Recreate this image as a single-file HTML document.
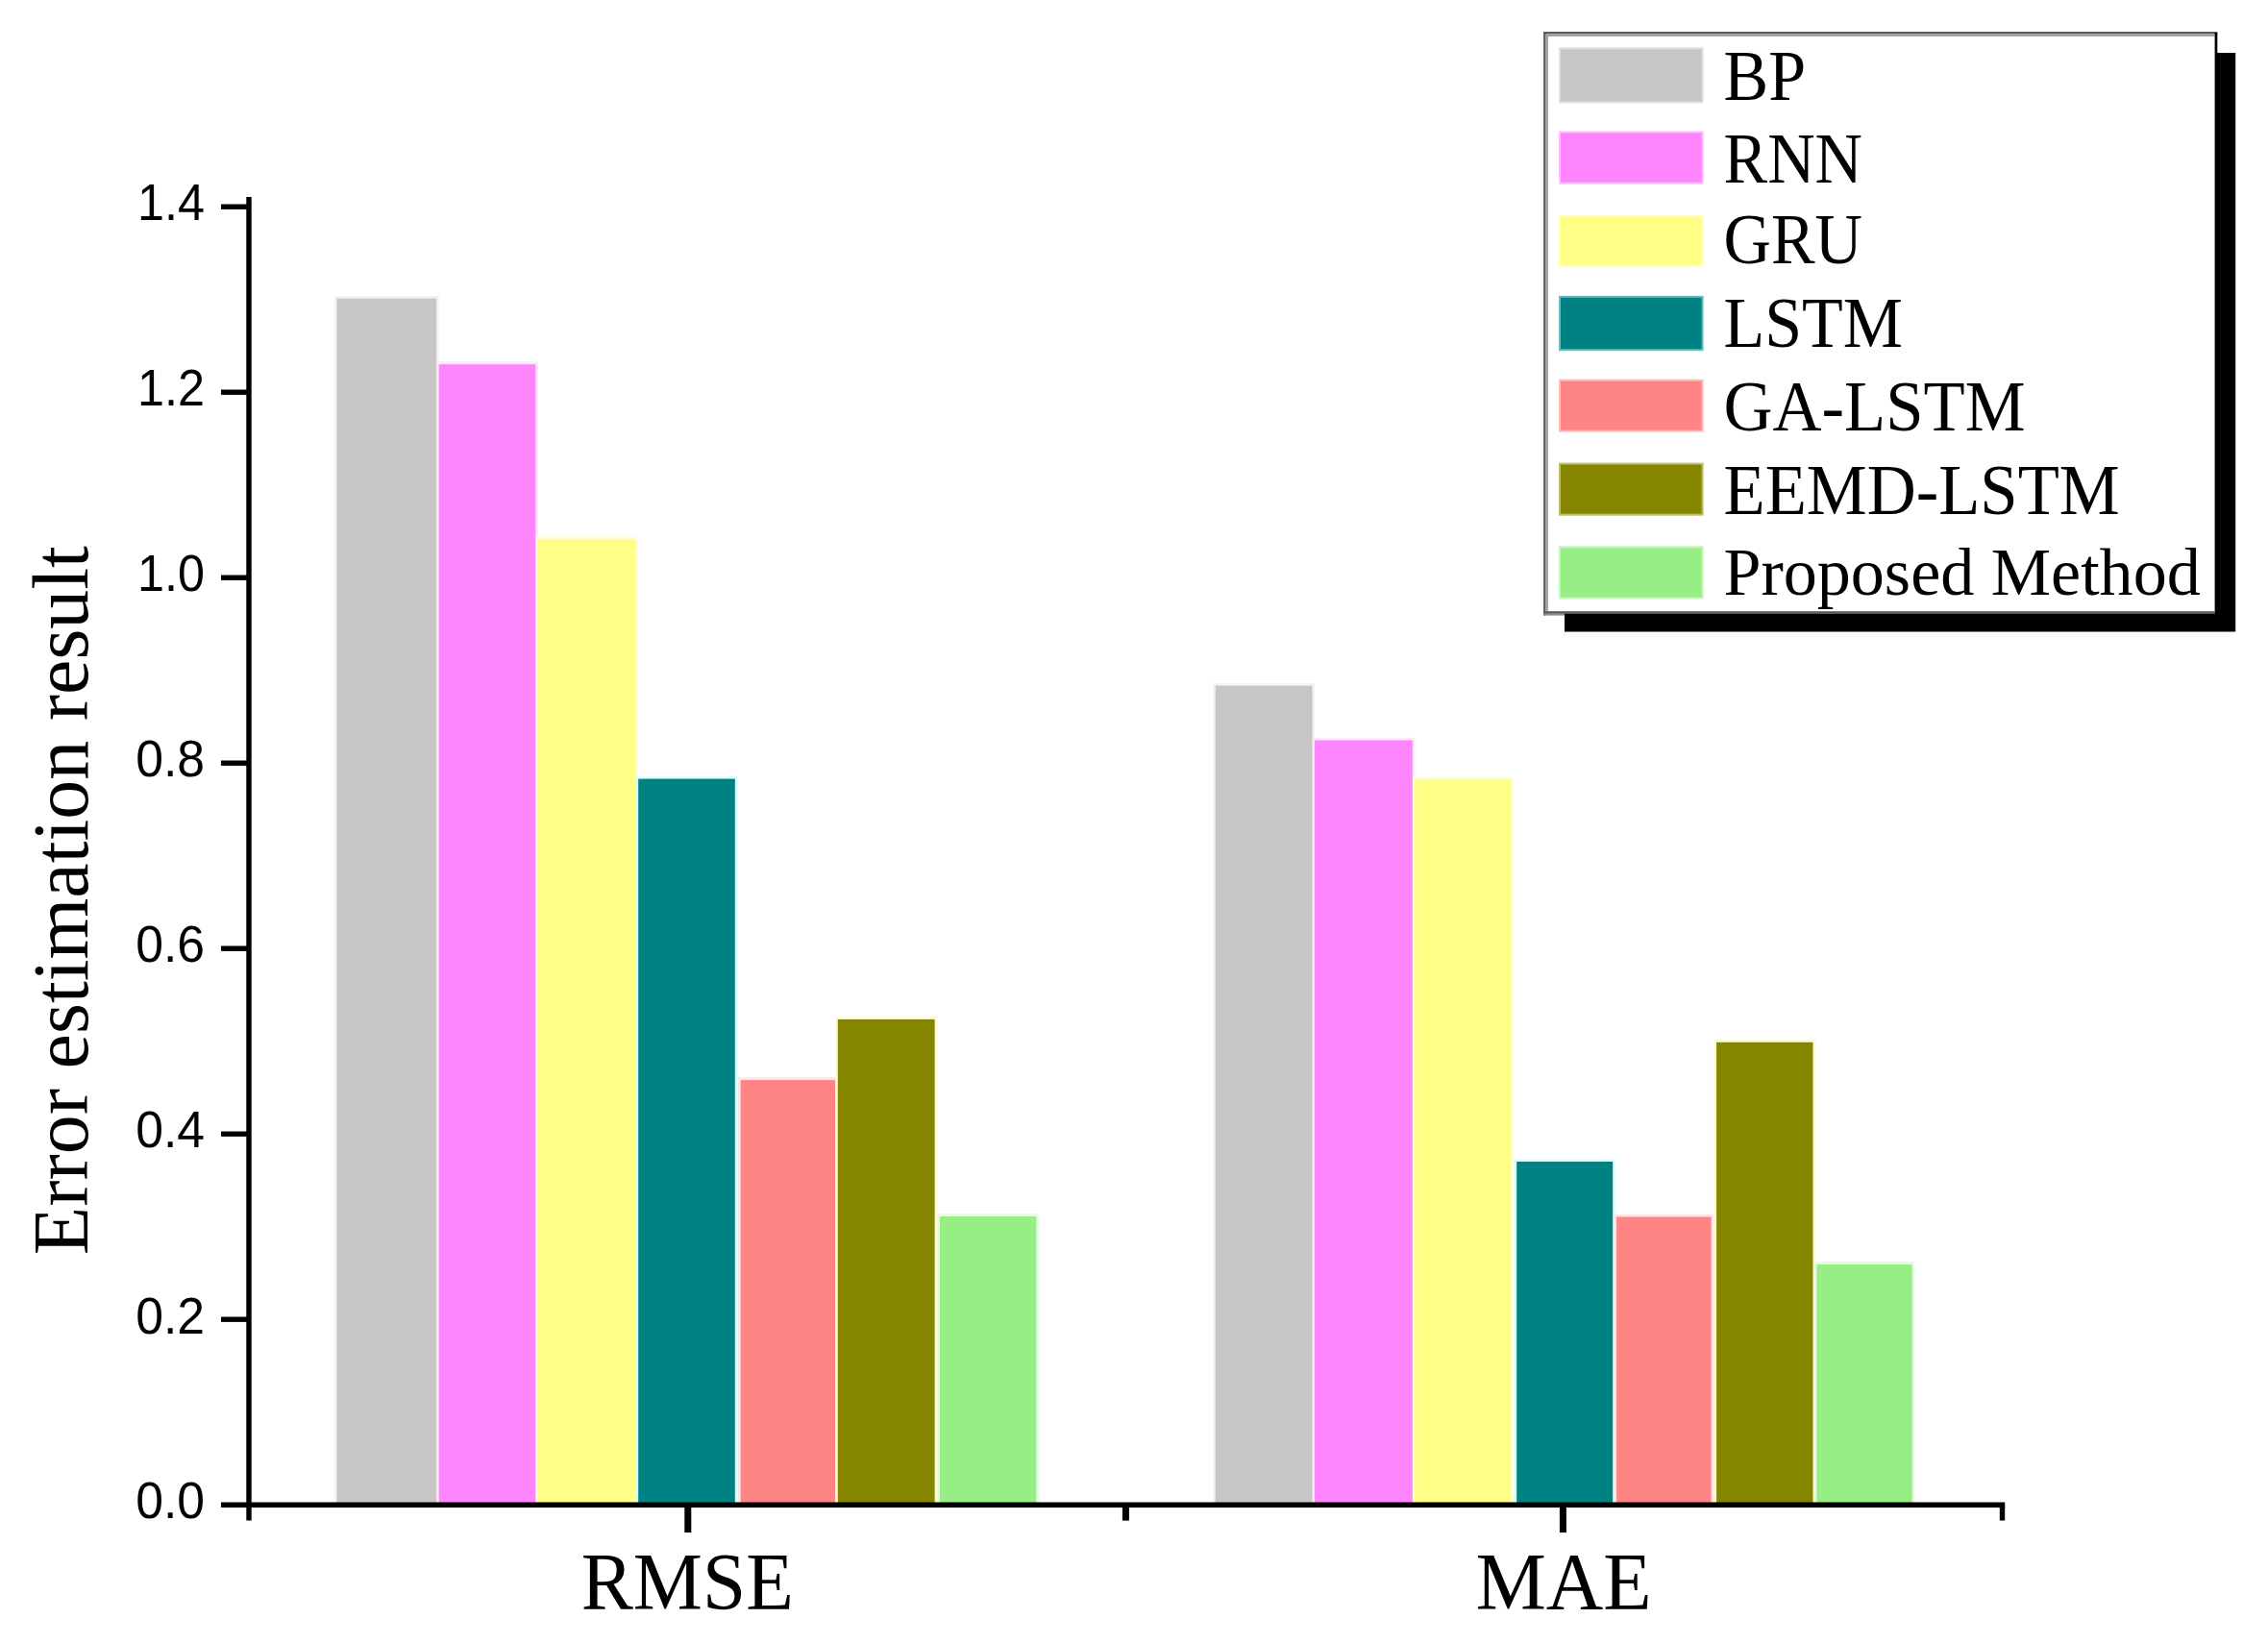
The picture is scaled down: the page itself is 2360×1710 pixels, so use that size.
<!DOCTYPE html>
<html lang="en"><head><meta charset="utf-8"><title>Error estimation result</title>
<style>html,body{margin:0;padding:0;background:#fff}body{width:2360px;height:1710px;overflow:hidden}svg{display:block}.ser{font-kerning:none;font-family:"Liberation Serif","Times New Roman",serif;fill:#000}.san{font-family:"Liberation Sans",Arial,sans-serif;fill:#000}</style></head><body>
<svg width="2360" height="1710" viewBox="0 0 2360 1710">
<rect x="0" y="0" width="2360" height="1710" fill="#ffffff"/>
<g>
<rect x="347.9" y="307.8" width="108.9" height="1258.4" fill="#f3f3f3"/>
<rect x="454.1" y="376.4" width="105.8" height="1189.8" fill="#ffe6ff"/>
<rect x="557.2" y="558.2" width="106.7" height="1008.0" fill="#ffffdd"/>
<rect x="661.6" y="807.8" width="105.8" height="758.4" fill="#dcffff"/>
<rect x="768.1" y="1121.3" width="103.5" height="444.9" fill="#ffe4e4"/>
<rect x="869.2" y="1058.1" width="106.0" height="508.1" fill="#fbfbd6"/>
<rect x="975.4" y="1263.2" width="105.5" height="303.0" fill="#e6fbe0"/>
<rect x="1262.1" y="710.9" width="106.0" height="855.3" fill="#f3f3f3"/>
<rect x="1365.3" y="767.7" width="107.1" height="798.5" fill="#ffe6ff"/>
<rect x="1469.6" y="808.2" width="105.4" height="758.0" fill="#ffffdd"/>
<rect x="1575.6" y="1206.2" width="105.2" height="360.0" fill="#dcffff"/>
<rect x="1679.5" y="1263.7" width="103.7" height="302.5" fill="#ffe4e4"/>
<rect x="1783.5" y="1082.0" width="105.6" height="484.2" fill="#fbfbd6"/>
<rect x="1887.9" y="1313.2" width="104.4" height="253.0" fill="#e6fbe0"/>
</g>
<g>
<rect x="350.5" y="310.6" width="103.7" height="1255.6" fill="#c6c6c6"/>
<rect x="456.7" y="379.2" width="100.6" height="1187.0" fill="#ff85ff"/>
<rect x="559.8" y="561.0" width="101.5" height="1005.2" fill="#ffff85"/>
<rect x="664.2" y="810.6" width="100.6" height="755.6" fill="#008282"/>
<rect x="770.7" y="1124.1" width="98.3" height="442.1" fill="#ff8585"/>
<rect x="871.8" y="1060.9" width="100.8" height="505.3" fill="#858500"/>
<rect x="978.0" y="1266.0" width="100.3" height="300.2" fill="#96ee85"/>
<rect x="1264.7" y="713.7" width="100.8" height="852.5" fill="#c6c6c6"/>
<rect x="1367.9" y="770.5" width="101.9" height="795.7" fill="#ff85ff"/>
<rect x="1472.2" y="811.0" width="100.2" height="755.2" fill="#ffff85"/>
<rect x="1578.2" y="1209.0" width="100.0" height="357.2" fill="#008282"/>
<rect x="1682.1" y="1266.5" width="98.5" height="299.7" fill="#ff8585"/>
<rect x="1786.1" y="1084.8" width="100.4" height="481.4" fill="#858500"/>
<rect x="1890.5" y="1316.0" width="99.2" height="250.2" fill="#96ee85"/>
</g>
<g stroke="#000" stroke-width="5.4" fill="none">
<line x1="259" y1="205" x2="259" y2="1582.5"/>
<line x1="230" y1="1566.2" x2="2086.2" y2="1566.2"/>
<line x1="230" y1="1373.2" x2="259" y2="1373.2"/>
<line x1="230" y1="1180.2" x2="259" y2="1180.2"/>
<line x1="230" y1="987.2" x2="259" y2="987.2"/>
<line x1="230" y1="794.2" x2="259" y2="794.2"/>
<line x1="230" y1="601.2" x2="259" y2="601.2"/>
<line x1="230" y1="408.2" x2="259" y2="408.2"/>
<line x1="230" y1="215.2" x2="259" y2="215.2"/>
<line x1="715.8" y1="1566.2" x2="715.8" y2="1595" stroke-width="7"/>
<line x1="1626.4" y1="1566.2" x2="1626.4" y2="1595" stroke-width="7"/>
<line x1="1171.4" y1="1566.2" x2="1171.4" y2="1582.6" stroke-width="7"/>
<line x1="2083.5" y1="1566.2" x2="2083.5" y2="1582.5"/>
</g>
<text class="san" font-size="53" text-anchor="end" transform="translate(213,1579.5) scale(0.975,1)">0.0</text>
<text class="san" font-size="53" text-anchor="end" transform="translate(213,1387.7) scale(0.975,1)">0.2</text>
<text class="san" font-size="53" text-anchor="end" transform="translate(213,1193.5) scale(0.975,1)">0.4</text>
<text class="san" font-size="53" text-anchor="end" transform="translate(213,1000.5) scale(0.975,1)">0.6</text>
<text class="san" font-size="53" text-anchor="end" transform="translate(213,807.5) scale(0.975,1)">0.8</text>
<text class="san" font-size="53" text-anchor="end" transform="translate(213,614.5) scale(0.95,1)">1.0</text>
<text class="san" font-size="53" text-anchor="end" transform="translate(213,421.5) scale(0.95,1)">1.2</text>
<text class="san" font-size="53" text-anchor="end" transform="translate(213,228.5) scale(0.95,1)">1.4</text>
<text class="ser" font-size="85" text-anchor="middle" transform="translate(715.2,1675) scale(0.955,1)">RMSE</text>
<text class="ser" font-size="85" text-anchor="middle" transform="translate(1627,1675) scale(0.97,1)">MAE</text>
<text class="ser" font-size="82" text-anchor="middle" transform="translate(90.6,937) rotate(-90)">Error estimation result</text>
<rect x="1606.1" y="33" width="698.5" height="607.6" fill="#fff"/>
<rect x="1606.1" y="33" width="701.2" height="2.5" fill="#5e5e5e"/>
<rect x="1608.5" y="35.5" width="696.1" height="2.4" fill="#a0a0a0"/>
<rect x="1606.1" y="33" width="2.4" height="607.6" fill="#5e5e5e"/>
<rect x="1608.5" y="35.5" width="2.4" height="600.7" fill="#a0a0a0"/>
<rect x="1606.1" y="636.2" width="698.5" height="2.6" fill="#5a5a5a"/>
<rect x="1606.1" y="638.8" width="22" height="1.8" fill="#8c8c8c"/>
<path d="M2304.6 34 H2307.3 V55 H2326.2 V657.5 H1628 V638.8 H2304.6 Z" fill="#000"/>
<rect x="1622" y="49.2" width="150.6" height="58.1" fill="#dfdfdf"/>
<rect x="1624" y="51.2" width="146.6" height="54.1" fill="#c6c6c6"/>
<text class="ser" font-size="74" transform="translate(1793.5,103.7) scale(0.945,1)">BP</text>
<rect x="1622" y="136.5" width="150.6" height="55.1" fill="#ffbbff"/>
<rect x="1624" y="138.5" width="146.6" height="51.1" fill="#ff85ff"/>
<text class="ser" font-size="74" transform="translate(1793.5,190) scale(0.925,1)">RNN</text>
<rect x="1622" y="224.2" width="150.6" height="53.7" fill="#ffffbb"/>
<rect x="1624" y="226.2" width="146.6" height="49.7" fill="#ffff85"/>
<text class="ser" font-size="74" transform="translate(1793.5,274.3) scale(0.925,1)">GRU</text>
<rect x="1622" y="307.8" width="150.6" height="57.4" fill="#72baba"/>
<rect x="1624" y="309.8" width="146.6" height="53.4" fill="#008282"/>
<text class="ser" font-size="74" transform="translate(1793.5,360.8) scale(0.945,1)">LSTM</text>
<rect x="1622" y="394.7" width="150.6" height="55.0" fill="#ffbbbb"/>
<rect x="1624" y="396.7" width="146.6" height="51.0" fill="#ff8585"/>
<text class="ser" font-size="74" transform="translate(1793.5,447.7) scale(0.955,1)">GA-LSTM</text>
<rect x="1622" y="481.7" width="150.6" height="55.0" fill="#bbbb72"/>
<rect x="1624" y="483.7" width="146.6" height="51.0" fill="#858500"/>
<text class="ser" font-size="74" transform="translate(1793.5,535.3) scale(0.955,1)">EEMD-LSTM</text>
<rect x="1622" y="568.4" width="150.6" height="55.0" fill="#c5f5bb"/>
<rect x="1624" y="570.4" width="146.6" height="51.0" fill="#96ee85"/>
<text class="ser" font-size="70.5" transform="translate(1793.5,619.2) scale(0.994,1)">Proposed Method</text>
</svg></body></html>
